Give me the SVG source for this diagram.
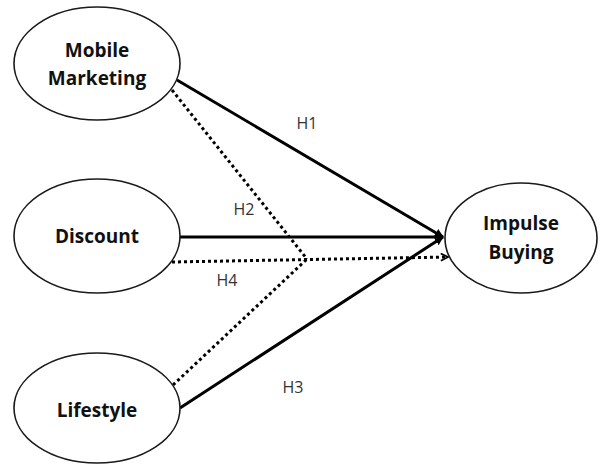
<svg xmlns="http://www.w3.org/2000/svg" width="600" height="465" viewBox="0 0 600 465">
  <defs>
    <style>
      .node ellipse { fill: #ffffff; stroke: #1a1a1a; stroke-width: 1.6; }
      .node text { font-family: "Open Sans", "Noto Sans", "Liberation Sans", sans-serif; font-weight: 700; font-size: 19px; fill: #111111; text-anchor: middle; }
      .solid { stroke: #000000; stroke-width: 3; fill: none; }
      .dotted { stroke: #000000; stroke-width: 3; stroke-dasharray: 3 3; fill: none; }
      .label { font-family: "Open Sans", "Noto Sans", "Liberation Sans", sans-serif; font-size: 16px; fill: #333333; text-anchor: middle; }
    </style>
    <marker id="arrowSolid" viewBox="0 0 10 10" refX="9" refY="5" markerWidth="3" markerHeight="3.2" orient="auto" markerUnits="strokeWidth">
      <path d="M0,0 L10,5 L0,10 z" fill="#000000"/>
    </marker>
    <marker id="arrowOpen" viewBox="0 0 10 10" refX="9" refY="5" markerWidth="3" markerHeight="3" orient="auto" markerUnits="strokeWidth">
      <path d="M1,1 L9,5 L1,9" fill="none" stroke="#000000" stroke-width="2"/>
    </marker>
  </defs>

  <!-- connectors: three direct paths, two dotted paths merging into one -->
  <g id="connectors">
    <line class="solid" x1="177" y1="80" x2="443" y2="237" marker-end="url(#arrowSolid)"/>
    <line class="solid" x1="180" y1="237" x2="443" y2="237" marker-end="url(#arrowSolid)"/>
    <line class="solid" x1="180" y1="408" x2="443" y2="237" marker-end="url(#arrowSolid)"/>
    <line class="dotted" x1="172" y1="90" x2="307" y2="259"/>
    <line class="dotted" x1="173" y1="385" x2="307" y2="259"/>
    <line class="dotted" x1="172" y1="262" x2="448" y2="257" marker-end="url(#arrowOpen)"/>
    <text class="label" x="307" y="129">H1</text>
    <text class="label" x="244" y="215">H2</text>
    <text class="label" x="227" y="286">H4</text>
    <text class="label" x="293" y="393">H3</text>
  </g>

  <g id="mobile-marketing" class="node">
    <ellipse cx="97" cy="63.5" rx="83" ry="56.5"/>
    <text x="97" y="57">Mobile</text>
    <text x="97" y="85">Marketing</text>
  </g>

  <g id="discount" class="node">
    <ellipse cx="97" cy="236" rx="83" ry="57"/>
    <text x="97" y="243">Discount</text>
  </g>

  <g id="lifestyle" class="node">
    <ellipse cx="97" cy="408" rx="83" ry="55"/>
    <text x="97" y="417">Lifestyle</text>
  </g>

  <g id="impulse-buying" class="node">
    <ellipse cx="521" cy="238" rx="76" ry="55"/>
    <text x="521" y="230">Impulse</text>
    <text x="521" y="259">Buying</text>
  </g>
</svg>
